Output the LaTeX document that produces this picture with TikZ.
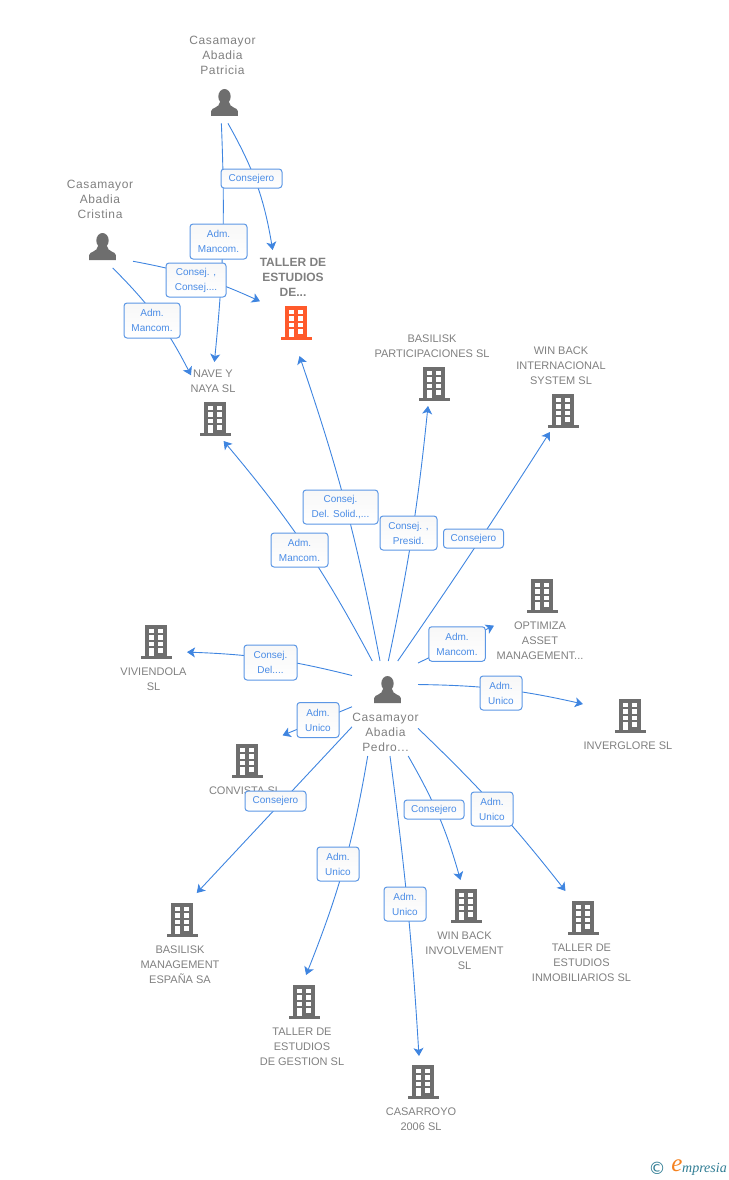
\documentclass[tikz,border=0pt]{standalone}
\usepackage{fontspec}
\setmainfont{Liberation Sans}
\newfontfamily\personfont[LetterSpace=5]{Liberation Sans}
\newfontfamily\logofont{Liberation Serif}
\newfontfamily\symfont{DejaVu Sans}
\usetikzlibrary{arrows.meta}
\definecolor{linkblue}{HTML}{3F85E0}
\definecolor{labelblue}{HTML}{4A8CE6}
\definecolor{entgray}{HTML}{808080}
\definecolor{icongray}{HTML}{6E6E6E}
\definecolor{iconorange}{HTML}{FF5A2B}
\definecolor{logoteal}{HTML}{2F7C93}
\definecolor{logoorange}{HTML}{F58220}
\tikzset{
  entbox/.style = {rectangle, inner sep = 0pt, outer sep = 0pt},
  enttext/.style = {text = entgray, align = center, inner sep = 0pt, font = \fontsize{11}{15}\selectfont},
  perstext/.style = {enttext, font = \fontsize{12}{15}\selectfont\personfont},
  maintext/.style = {enttext, font = \fontsize{12}{15}\selectfont\bfseries},
  link/.style = {draw = linkblue, line width = 0.9pt, -{Stealth[length = 8pt, width = 10pt, inset = 2pt]}},
  tag/.style = {draw = linkblue!85!white, line width = 1pt, rounded corners = 3pt, top color = black!3, bottom color = white,
    text = labelblue, align = center, inner sep = 0pt, font = \fontsize{10}{15}\selectfont},
  pics/bldg/.style = {code = {
    \fill[#1] (-11,0) rectangle (11,31);
    \fill[#1] (-15.5,31) rectangle (15.5,33.7);
    \fill[white] (-7.2,4.3) rectangle (-2.2,8.3);
    \fill[white] (2.2,4.3) rectangle (7.2,8.3);
    \fill[white] (-7.2,10.3) rectangle (-2.2,15);
    \fill[white] (2.2,10.3) rectangle (7.2,15);
    \fill[white] (-7.2,16.7) rectangle (-2.2,21);
    \fill[white] (2.2,16.7) rectangle (7.2,21);
    \fill[white] (-7.2,23.3) rectangle (-2.2,31);
    \fill[white] (2.2,23.3) rectangle (7.2,27.7);
  }},
  pics/pers/.style = {code = {
    \fill[icongray] (0,7.5) ellipse (6.2 and 7.5);
    \fill[icongray] (-13.3,27) -- (-13.3,22) .. controls (-13.3,18.5) and (-5,19) .. (-4.5,13) -- (4.5,13) .. controls (5,19) and (13.3,18.5) .. (13.3,22) -- (13.3,27) -- cycle;
  }}
}
\begin{document}
\begin{tikzpicture}[x = 1pt, y = -1pt]
\useasboundingbox (0,0) rectangle (728,1180);

\node[entbox, minimum width = 66pt, minimum height = 93.6pt] (patricia) at (223,76.5) {};
\node[entbox, minimum width = 66pt, minimum height = 95pt] (cristina) at (100,220.5) {};
\node[entbox, minimum width = 66pt, minimum height = 95pt] (pedro) at (385,708.5) {};
\node[entbox, minimum width = 66pt, minimum height = 106pt] (taller) at (293,303) {};
\node[entbox, minimum width = 44pt, minimum height = 79pt] (nave) at (213,401.5) {};
\node[entbox, minimum width = 120pt, minimum height = 76pt] (basiliskp) at (432,368) {};
\node[entbox, minimum width = 92pt, minimum height = 89pt] (winbacki) at (561,387.5) {};
\node[entbox, minimum width = 92pt, minimum height = 84pt] (optimiza) at (540,620) {};
\node[entbox, minimum width = 90pt, minimum height = 54pt] (inverglore) at (628,725) {};
\node[entbox, minimum width = 67pt, minimum height = 70pt] (viviendola) at (153.5,658) {};
\node[entbox, minimum width = 75pt, minimum height = 66pt] (convista) at (245,768) {};
\node[entbox, minimum width = 80pt, minimum height = 92pt] (basiliskm) at (180,939) {};
\node[entbox, minimum width = 86pt, minimum height = 93pt] (tallerg) at (302,1021.5) {};
\node[entbox, minimum width = 72pt, minimum height = 77pt] (casarroyo) at (421,1094.5) {};
\node[entbox, minimum width = 81pt, minimum height = 92pt] (winbackv) at (464.5,926) {};
\node[entbox, minimum width = 101pt, minimum height = 93pt] (tallerm) at (581.5,937.5) {};

\node[perstext] (patriciatxt) at (222.5,55) {Casamayor\\Abadia\\Patricia};
\node[perstext] (cristinatxt) at (100,199) {Casamayor\\Abadia\\Cristina};
\node[perstext] (pedrotxt) at (385.5,732) {Casamayor\\Abadia\\Pedro...};
\node[maintext] (tallertxt) at (293,277) {TALLER DE\\ESTUDIOS\\DE...};
\node[enttext] (navetxt) at (213,381.5) {NAVE Y\\NAYA SL};
\node[enttext] (basiliskptxt) at (432,346.5) {BASILISK\\PARTICIPACIONES SL};
\node[enttext] (winbackitxt) at (561,366) {WIN BACK\\INTERNACIONAL\\SYSTEM  SL};
\node[enttext] (optimizatxt) at (540,641) {OPTIMIZA\\ASSET\\MANAGEMENT...};
\node[enttext] (invergloretxt) at (628,746) {INVERGLORE SL};
\node[enttext] (viviendolatxt) at (153.5,679.5) {VIVIENDOLA\\SL};
\node[enttext] (convistatxt) at (245,791) {CONVISTA SL};
\node[enttext] (basiliskmtxt) at (180,965) {BASILISK\\MANAGEMENT\\ESPAÑA SA};
\node[enttext] (tallergtxt) at (302,1047) {TALLER DE\\ESTUDIOS\\DE GESTION SL};
\node[enttext] (casarroyotxt) at (421,1119.5) {CASARROYO\\2006 SL};
\node[enttext] (winbackvtxt) at (464.5,951) {WIN BACK\\INVOLVEMENT\\SL};
\node[enttext] (tallermtxt) at (581.5,963) {TALLER DE\\ESTUDIOS\\INMOBILIARIOS SL};

\pic at (224.5,89) {pers};
\pic at (102.5,233) {pers};
\pic at (387.5,676) {pers};
\pic at (296,306) {bldg = iconorange};
\pic at (215,402) {bldg = icongray};
\pic at (434,367) {bldg = icongray};
\pic at (563,394) {bldg = icongray};
\pic at (542,579) {bldg = icongray};
\pic at (156,625) {bldg = icongray};
\pic at (630,699) {bldg = icongray};
\pic at (247,744) {bldg = icongray};
\pic at (182,903) {bldg = icongray};
\pic at (304,985) {bldg = icongray};
\pic at (423,1065) {bldg = icongray};
\pic at (466,889) {bldg = icongray};
\pic at (583,901) {bldg = icongray};

\draw[link] (patricia.268.4) to[bend left = 4] (nave.88);
\draw[link] (patricia.276.5) to[bend left = 10] (taller.111.9);
\draw[link] (cristina.309.9) to[bend left = 7] (taller.177);
\draw[link] (cristina.285.7) to[bend left = 9] (nave.130);
\draw[link] (pedro.105.3) to[bend right = 6] (nave.285.6);
\draw[link] (pedro.96) to[bend right = 4] (taller.277.5);
\draw[link] (pedro.86.7) to[bend right = 3] (basiliskp.264);
\draw[link] (pedro.75) to[bend right = 1] (winbacki.256.1);
\draw[link] (pedro.54) -- (optimiza.187.4);
\draw[link] (pedro.36.6) to[bend left = 6] (inverglore.155);
\draw[link] (pedro.135.2) to[bend right = 6] (viviendola.10);
\draw[link] (pedro.177) -- (convista.41);
\draw[link] (pedro.209.7) -- (basiliskm.70.8);
\draw[link] (pedro.250.4) to[bend left = 6] (tallerg.85);
\draw[link] (pedro.276.8) to[bend left = 2] (casarroyo.93);
\draw[link] (pedro.296.8) to[bend left = 7] (winbackv.95.6);
\draw[link] (pedro.329.2) to[bend left = 4] (tallerm.109.5);

\node[tag, minimum width = 61pt, minimum height = 19pt] (tagpt) at (251.5,178.5) {Consejero};
\node[tag, minimum width = 57pt, minimum height = 35pt] (tagpn) at (218.5,241.5) {Adm.\\Mancom.};
\node[tag, minimum width = 60pt, minimum height = 34pt] (tagct) at (196,280) {Consej. ,\\Consej....};
\node[tag, minimum width = 56pt, minimum height = 35pt] (tagcn) at (152,320.5) {Adm.\\Mancom.};
\node[tag, minimum width = 75pt, minimum height = 34pt] (tagpedt) at (340.5,507) {Consej.\\Del. Solid.,...};
\node[tag, minimum width = 57pt, minimum height = 34pt] (tagpedn) at (299.5,550) {Adm.\\Mancom.};
\node[tag, minimum width = 57pt, minimum height = 34pt] (tagpedb) at (408.5,533) {Consej. ,\\Presid.};
\node[tag, minimum width = 60pt, minimum height = 19pt] (tagpedw) at (473.5,538.5) {Consejero};
\node[tag, minimum width = 56.5pt, minimum height = 34.5pt] (tagpedo) at (457,644) {Adm.\\Mancom.};
\node[tag, minimum width = 42pt, minimum height = 34pt] (tagpedi) at (501,693) {Adm.\\Unico};
\node[tag, minimum width = 53pt, minimum height = 35pt] (tagpedv) at (270.5,662.5) {Consej.\\Del....};
\node[tag, minimum width = 42pt, minimum height = 35pt] (tagpedc) at (318,720) {Adm.\\Unico};
\node[tag, minimum width = 61pt, minimum height = 20pt] (tagpedm) at (275.5,801) {Consejero};
\node[tag, minimum width = 60pt, minimum height = 19pt] (tagpedv2) at (434,809.5) {Consejero};
\node[tag, minimum width = 42pt, minimum height = 34pt] (tagpedt2) at (492,809) {Adm.\\Unico};
\node[tag, minimum width = 42pt, minimum height = 34pt] (tagpedg) at (338,864) {Adm.\\Unico};
\node[tag, minimum width = 42pt, minimum height = 34pt] (tagpedr) at (405,904) {Adm.\\Unico};

\node[text = logoteal, inner sep = 0pt, font = \fontsize{17}{17}\selectfont\symfont] (logoc) at (657,1168) {©};
\node[text = logoorange, inner sep = 0pt, font = \fontsize{25}{25}\selectfont\logofont\itshape] (logoe) at (677,1166) {e};
\node[text = logoteal, anchor = west, inner sep = 0pt, font = \fontsize{14}{14}\selectfont\logofont\itshape] (logot) at (682,1169) {mpresia};
\end{tikzpicture}
\end{document}
